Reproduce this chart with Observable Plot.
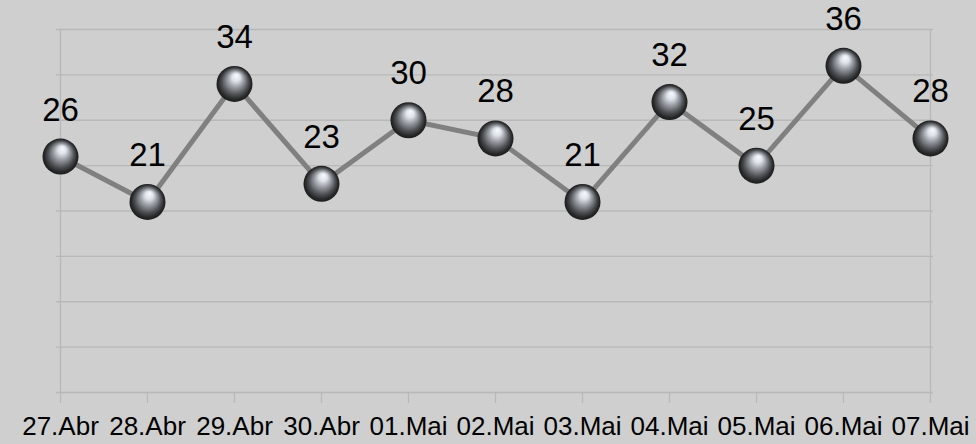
<!DOCTYPE html>
<html>
<head>
<meta charset="utf-8">
<script src="https://cdn.jsdelivr.net/npm/d3@7"></script>
<script src="https://cdn.jsdelivr.net/npm/@observablehq/plot@0.6"></script>
<style>
  html, body { margin: 0; padding: 0; background: #cfcfcf; }
  #chart svg { display: block; }
</style>
</head>
<body>
<div id="chart"></div>
<script>
const categories = ["27.Abr", "28.Abr", "29.Abr", "30.Abr", "01.Mai", "02.Mai", "03.Mai", "04.Mai", "05.Mai", "06.Mai", "07.Mai"];
const values = [26, 21, 34, 23, 30, 28, 21, 32, 25, 36, 28];
const yTicks = [0, 5, 10, 15, 20, 25, 30, 35, 40];

const data = categories.map((c, i) => ({ cat: c, v: values[i] }));

const svg = Plot.plot({
  width: 976,
  height: 444,
  marginLeft: 56,
  marginRight: 43,
  marginTop: 29,
  marginBottom: 52,
  style: { background: "#cfcfcf", fontFamily: "'Liberation Sans', Arial, sans-serif", color: "#000" },
  x: { type: "point", domain: categories, padding: 0, range: [56, 933], label: null },
  y: { domain: [0, 40], range: [392, 29], label: null, axis: null },
  marks: [
    Plot.gridY(yTicks, { stroke: "#b8b8b8", strokeOpacity: 1, strokeWidth: 1.3 }),
    Plot.ruleX([categories[0], categories[categories.length - 1]], { stroke: "#b8b8b8", strokeWidth: 1.3, y1: 0, y2: 40 }),
    Plot.axisX({ tickSize: 11, tickPadding: 13.5, stroke: "#b8b8b8", strokeWidth: 1.3, fontSize: 26, fill: "#000", label: null }),
    Plot.line(data, { x: "cat", y: "v", stroke: "#808080", strokeWidth: 5 }),
    Plot.dot(data, { x: "cat", y: "v", r: 18, fill: "url(#sphereGrad)", stroke: "none" }),
    Plot.text(data, { x: "cat", y: "v", text: d => String(d.v), dy: -46.5, lineAnchor: "middle", fontSize: 33, fill: "#000" })
  ]
});

const defs = d3.select(svg).insert("defs", ":first-child");
const g = defs.append("radialGradient")
  .attr("id", "sphereGrad")
  .attr("cx", "0.5").attr("cy", "0.5").attr("r", "0.5")
  .attr("fx", "0.56").attr("fy", "0.26");
[
  [0, "#f8fbff"],
  [0.22, "#dfe3ea"],
  [0.45, "#9a9ea4"],
  [0.72, "#505256"],
  [0.9, "#28292a"],
  [1, "#1c1c1c"]
].forEach(([o, c]) => g.append("stop").attr("offset", o).attr("stop-color", c));

document.getElementById("chart").appendChild(svg);
</script>
</body>
</html>
